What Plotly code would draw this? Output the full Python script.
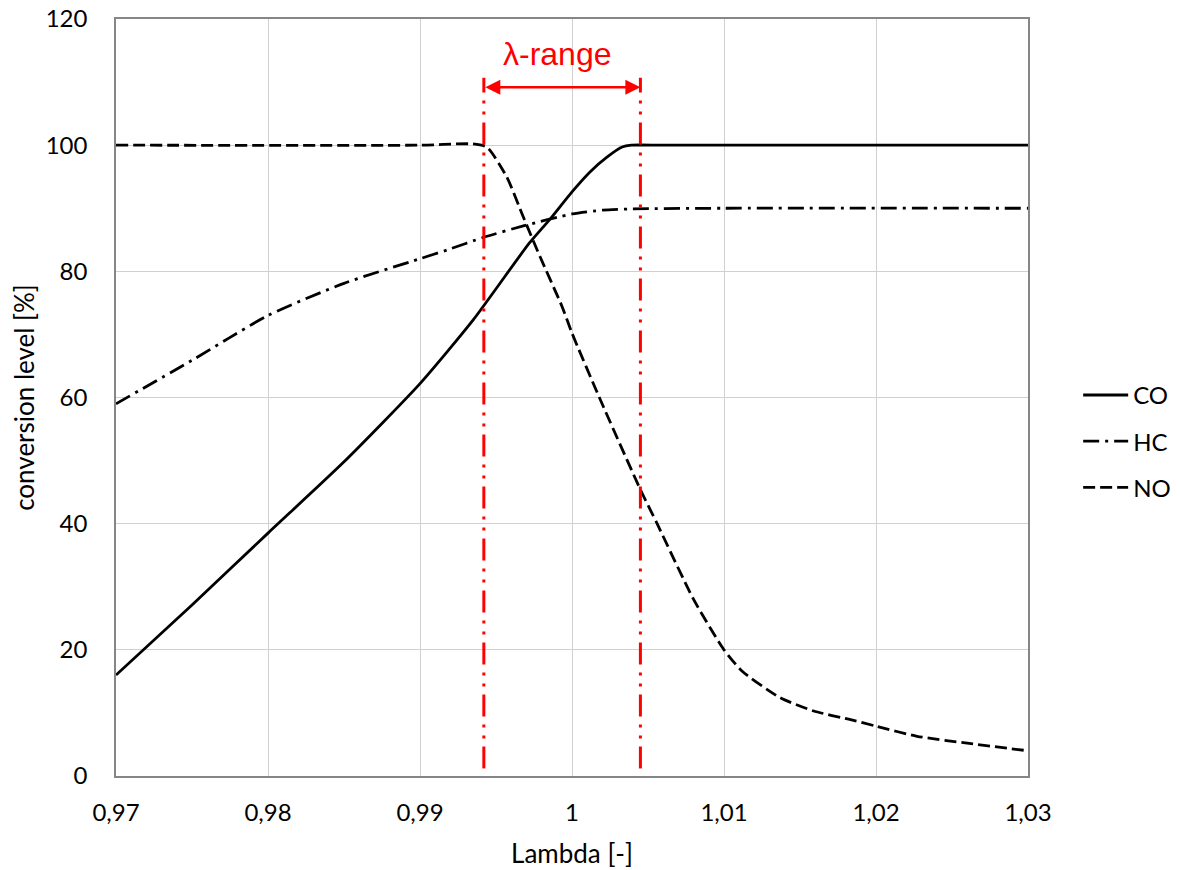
import plotly.graph_objects as go

# Conversion level of the three-way catalyst vs. air-fuel ratio (lambda)
co_lambda = [0.970, 0.975, 0.980, 0.985, 0.990, 0.9935, 0.9972, 0.9986, 1.0000,
             1.0012, 1.0023, 1.0033, 1.0039, 1.0060, 1.0300]
co_conv = [16.0, 27.1, 38.5, 49.8, 62.2, 72.3, 84.5, 88.4, 92.6,
           95.8, 98.1, 99.7, 100.0, 100.0, 100.0]

hc_lambda = [0.970, 0.975, 0.980, 0.985, 0.990, 0.9918, 0.9942, 0.9968, 1.0000,
             1.0020, 1.0040, 1.0100, 1.0300]
hc_conv = [59.0, 65.9, 73.0, 78.1, 82.0, 83.4, 85.4, 87.2, 89.1,
           89.7, 89.9, 90.0, 90.0]

no_lambda = [0.970, 0.990, 0.9935, 0.9944, 0.9957, 0.9968, 0.9979, 0.99935, 1.0000,
             1.0018, 1.0045, 1.0056, 1.0080, 1.0100, 1.0112, 1.0137, 1.0159,
             1.0182, 1.0200, 1.0227, 1.0260, 1.0300]
no_conv = [100.0, 100.0, 100.2, 99.7, 95.0, 88.6, 82.3, 74.4, 70.2,
           60.0, 45.4, 40.0, 28.0, 20.0, 16.6, 12.4, 10.3,
           9.0, 7.9, 6.3, 5.2, 4.0]

# Lambda window marked in red
lambda_window = [0.9942, 1.0045]
window_label = "λ-range"

x_ticks = [0.97, 0.98, 0.99, 1.00, 1.01, 1.02, 1.03]
x_tick_text = ["0,97", "0,98", "0,99", "1", "1,01", "1,02", "1,03"]
y_ticks = [0, 20, 40, 60, 80, 100, 120]

FONT = "Lato, 'Open Sans', sans-serif"
BLACK = "#000000"
RED = "#ff0000"

fig = go.Figure()

fig.add_trace(go.Scatter(
    x=co_lambda, y=co_conv, name="CO", mode="lines", legendgroup="co",
    line=dict(color=BLACK, width=2.8, shape="spline", smoothing=0.6),
))
fig.add_trace(go.Scatter(
    x=hc_lambda, y=hc_conv, name="HC", mode="lines", legendgroup="hc",
    line=dict(color=BLACK, width=2.8, dash="16px,6px,3px,6px", shape="spline", smoothing=0.6),
))
fig.add_trace(go.Scatter(
    x=no_lambda, y=no_conv, name="NO", mode="lines", legendgroup="no",
    line=dict(color=BLACK, width=2.8, dash="12px,5px", shape="spline", smoothing=0.6),
))

# Red dash-dot-dot boundaries of the lambda window
for lam in lambda_window:
    fig.add_shape(
        type="line", xref="x", yref="y",
        x0=lam, x1=lam, y0=1.2, y1=110.7,
        line=dict(color=RED, width=3, dash="22px,8px,3px,8px,3px,8px"),
    )

# Double-headed arrow between the boundaries
fig.add_annotation(
    x=lambda_window[1], y=109.2, ax=lambda_window[0], ay=109.2,
    xref="x", yref="y", axref="x", ayref="y",
    text="", showarrow=True, arrowside="end+start",
    arrowhead=2, startarrowhead=2, arrowsize=1.2, startarrowsize=1.2,
    arrowwidth=2.5, arrowcolor=RED, standoff=0, startstandoff=0,
)
fig.add_annotation(
    x=sum(lambda_window) / 2, y=114.4, xref="x", yref="y", xshift=-5,
    text=window_label, showarrow=False,
    font=dict(family="'Liberation Sans', Arial, sans-serif", size=32, color=RED),
)

fig.update_xaxes(
    range=[0.97, 1.03], tickvals=x_ticks, ticktext=x_tick_text,
    showgrid=True, gridcolor="#d0d0d0", gridwidth=1,
    showline=True, linecolor="#868686", linewidth=1.5, mirror=True,
    ticks="", ticklabelstandoff=14, zeroline=False,
    tickfont=dict(family=FONT, size=24, color=BLACK),
    title=dict(text="Lambda [-]", font=dict(family=FONT, size=26, color=BLACK), standoff=20),
)
fig.update_yaxes(
    range=[0, 120], tickvals=y_ticks,
    showgrid=True, gridcolor="#d0d0d0", gridwidth=1,
    showline=True, linecolor="#868686", linewidth=1.5, mirror=True,
    ticks="", ticklabelstandoff=22, zeroline=False,
    tickfont=dict(family=FONT, size=24, color=BLACK),
    title=dict(text="conversion level [%]", font=dict(family=FONT, size=26, color=BLACK), standoff=4),
)

fig.update_layout(
    width=1180, height=870,
    margin=dict(l=116, r=152, t=19, b=94, autoexpand=False),
    paper_bgcolor="white", plot_bgcolor="white",
    showlegend=True,
    legend=dict(
        x=1.055, y=0.442, xanchor="left", yanchor="middle",
        font=dict(family=FONT, size=24, color=BLACK),
        traceorder="grouped", tracegroupgap=12, itemwidth=45,
        bgcolor="rgba(0,0,0,0)",
    ),
)

fig.write_html("out.html")
